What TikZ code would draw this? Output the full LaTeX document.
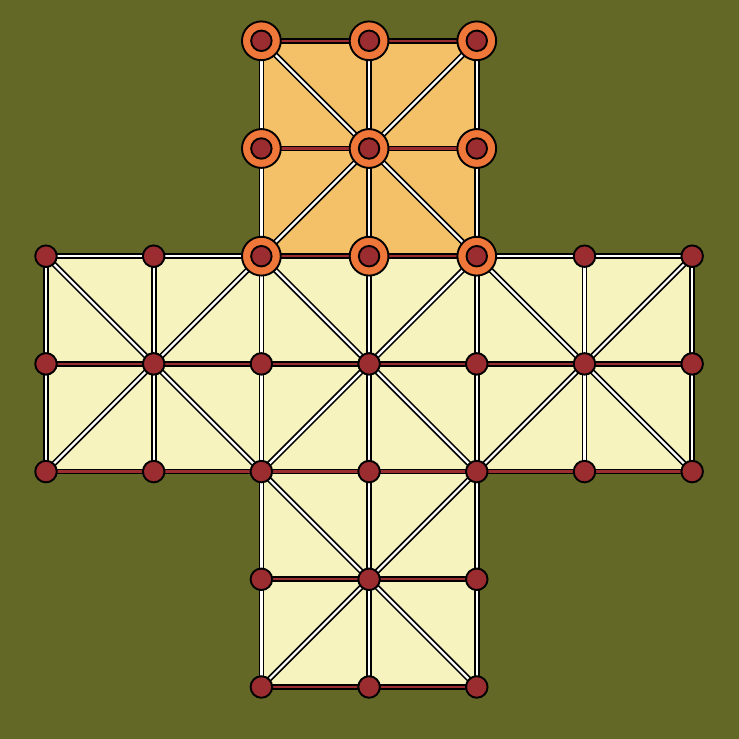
\documentclass[tikz,border=0pt]{standalone}
\usepackage{tikz}
\usetikzlibrary{positioning}
\definecolor{boardbg}{RGB}{100,104,38}
\definecolor{boardpale}{RGB}{246,243,190}
\definecolor{boardorange}{RGB}{245,193,104}
\definecolor{dotred}{RGB}{155,44,48}
\definecolor{ringorange}{RGB}{239,119,57}
\tikzset{wline/.style = {double=white, double distance=0.6pt, line width=0.45pt}}
\tikzset{rline/.style = {double=dotred, double distance=0.6pt, line width=0.45pt}}
\tikzset{circ/.style = {fill=dotred, draw, circle, line width=0.5pt, inner sep = 0, minimum size = 0.2cm}}
\tikzset{ring/.style = {fill=ringorange, draw, circle, line width=0.5pt, inner sep = 0, minimum size = 0.36cm}}

\begin{document}
\begin{tikzpicture}
    \fill [boardbg] (-0.427, -0.483) rectangle (6.435, 6.379);
    \useasboundingbox (-0.427, -0.483) rectangle (6.435, 6.379);

    % points of the cross
    \foreach \x in {0,...,6}
      \foreach \y in {2,3,4}
        \coordinate (p\x\y) at (\x, \y);
    \foreach \x in {2,3,4}
      \foreach \y in {0,...,6}
        \coordinate (p\x\y) at (\x, \y);

    \fill [boardpale] (p02) rectangle (p64);
    \fill [boardpale] (p20) rectangle (p44);
    \fill [boardorange] (p24) rectangle (p46);

    % verticals and diagonals
    \foreach \x in {0,1,5,6}
      \draw [wline] (p\x2) -- (p\x4);
    \foreach \x in {2,3,4}
      \draw [wline] (p\x0) -- (p\x6);
    \foreach \a/\b in {p02/p24, p04/p22, p22/p44, p24/p42, p42/p64, p44/p62,
                       p20/p42, p22/p40, p24/p46, p26/p44}
      \draw [wline] (\a) -- (\b);
    \draw [wline] (p04) -- (p24);
    \draw [wline] (p44) -- (p64);

    % horizontals
    \draw [rline] (p02) -- (p62);
    \draw [rline] (p03) -- (p63);
    \draw [rline] (p24) -- (p44);
    \foreach \y in {0,1,5,6}
      \draw [rline] (p2\y) -- (p4\y);

    % pieces
    \foreach \x in {0,1,5,6}
      \foreach \y in {2,3,4}
        \node [circ] (d\x\y) at (p\x\y) {};
    \foreach \x in {2,3,4}
      \foreach \y in {0,...,3}
        \node [circ] (d\x\y) at (p\x\y) {};
    \foreach \x in {2,3,4}
      \foreach \y in {4,5,6} {
        \node [ring] (r\x\y) at (p\x\y) {};
        \node [circ, minimum size = 0.19cm] (d\x\y) at (p\x\y) {};
      }
  \end{tikzpicture}
\end{document}
